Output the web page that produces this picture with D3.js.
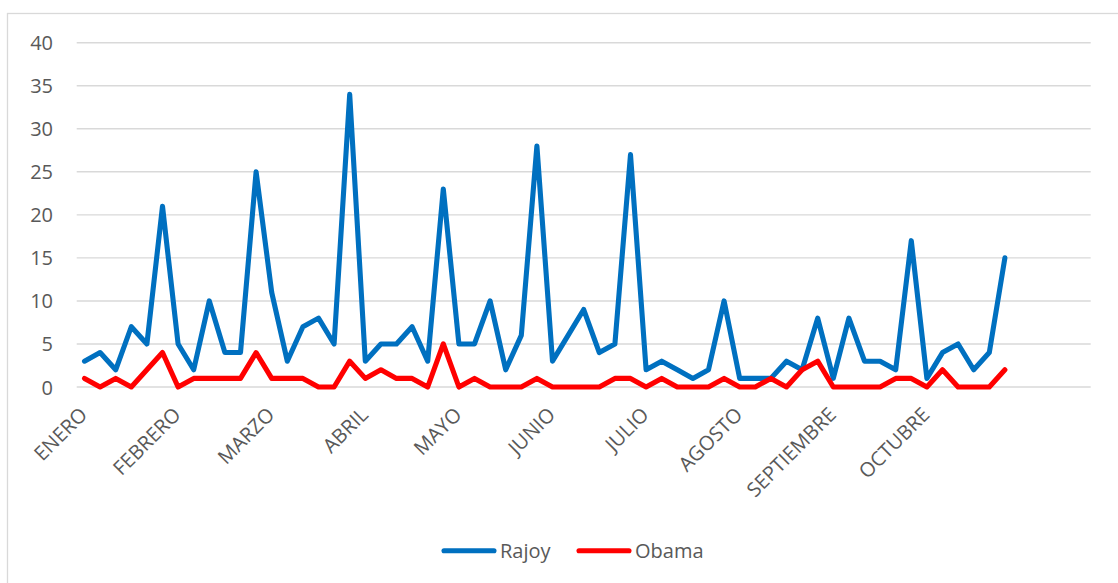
<!DOCTYPE html>
<html>
<head>
<meta charset="utf-8">
<script src="https://cdn.jsdelivr.net/npm/d3@7"></script>
<style>
  html, body { margin: 0; padding: 0; background: #ffffff; }
  svg { display: block; }
  text { font-family: "Open Sans", "Liberation Sans", sans-serif; fill: #595959; }
</style>
</head>
<body>
<svg id="chart" width="1118" height="583"></svg>
<script>
// Weekly mention counts, 65 category slots (last five empty)
const slotCount = 65;
const monthLabels = ["ENERO", "FEBRERO", "MARZO", "ABRIL", "MAYO", "JUNIO",
                     "JULIO", "AGOSTO", "SEPTIEMBRE", "OCTUBRE"];
const labelEvery = 6;
const rajoy = [3, 4, 2, 7, 5, 21, 5, 2, 10, 4, 4, 25, 11, 3, 7, 8, 5, 34, 3, 5,
               5, 7, 3, 23, 5, 5, 10, 2, 6, 28, 3, 6, 9, 4, 5, 27, 2, 3, 2, 1,
               2, 10, 1, 1, 1, 3, 2, 8, 1, 8, 3, 3, 2, 17, 1, 4, 5, 2, 4, 15];
const obama = [1, 0, 1, 0, 2, 4, 0, 1, 1, 1, 1, 4, 1, 1, 1, 0, 0, 3, 1, 2,
               1, 1, 0, 5, 0, 1, 0, 0, 0, 1, 0, 0, 0, 0, 1, 1, 0, 1, 0, 0,
               0, 1, 0, 0, 1, 0, 2, 3, 0, 0, 0, 0, 1, 1, 0, 2, 0, 0, 0, 2];
const yTicks = [0, 5, 10, 15, 20, 25, 30, 35, 40];

const series = [
  { name: "Rajoy", values: rajoy, color: "#0070C0" },
  { name: "Obama", values: obama, color: "#FF0000" }
];

const svg = d3.select("#chart");

// chart area border
svg.append("rect")
  .attr("x", 7.5).attr("y", 13.5)
  .attr("width", 1300).attr("height", 700)
  .attr("fill", "#ffffff")
  .attr("stroke", "#D9D9D9").attr("stroke-width", 1.3);

const plot = { left: 76.7, right: 1090.7, top: 42.7, bottom: 387 };

const x = d3.scaleBand()
  .domain(d3.range(slotCount))
  .range([plot.left, plot.right])
  .paddingInner(0).paddingOuter(0);
const cx = i => x(i) + x.bandwidth() / 2;

const y = d3.scaleLinear().domain([0, 40]).range([plot.bottom, plot.top]);

// horizontal gridlines
svg.append("g")
  .selectAll("line")
  .data(yTicks)
  .join("line")
  .attr("x1", plot.left).attr("x2", plot.right)
  .attr("y1", d => y(d)).attr("y2", d => y(d))
  .attr("stroke", "#D9D9D9").attr("stroke-width", 1.4);

// y axis labels
const yAxis = d3.axisLeft(y).tickValues(yTicks).tickSize(0).tickPadding(0);
const gy = svg.append("g")
  .attr("transform", `translate(${53},0)`)
  .call(yAxis);
gy.select(".domain").remove();
gy.selectAll("text")
  .attr("font-size", 20)
  .attr("font-family", "Open Sans")
  .attr("fill", "#595959")
  .attr("dy", "0.35em");

// x axis: month names every sixth slot, rotated
const xTickValues = monthLabels.map((m, k) => k * labelEvery);
const xAxis = d3.axisBottom(x)
  .tickValues(xTickValues)
  .tickFormat(i => monthLabels[i / labelEvery])
  .tickSize(0).tickPadding(0);
const gx = svg.append("g")
  .attr("transform", `translate(0,${plot.bottom})`)
  .call(xAxis);
gx.select(".domain").remove();
gx.selectAll(".tick text")
  .attr("font-size", 20)
  .attr("font-family", "Open Sans")
  .attr("fill", "#595959")
  .attr("text-anchor", "end")
  .attr("x", 0).attr("y", 0).attr("dy", 0)
  .attr("transform", "translate(4,29) rotate(-45)");

// series lines
const line = d3.line()
  .x((d, i) => cx(i))
  .y(d => y(d));

svg.append("g")
  .selectAll("path")
  .data(series)
  .join("path")
  .attr("d", s => line(s.values))
  .attr("fill", "none")
  .attr("stroke", s => s.color)
  .attr("stroke-width", 5.1)
  .attr("stroke-linejoin", "round")
  .attr("stroke-linecap", "round");

// legend
const legendItems = [
  { s: series[0], x1: 444, x2: 494, tx: 500 },
  { s: series[1], x1: 579, x2: 629, tx: 635 }
];
const lg = svg.append("g").attr("transform", "translate(0,550.7)");
lg.selectAll("line")
  .data(legendItems)
  .join("line")
  .attr("x1", d => d.x1).attr("x2", d => d.x2)
  .attr("y1", 0).attr("y2", 0)
  .attr("stroke", d => d.s.color)
  .attr("stroke-width", 5.1)
  .attr("stroke-linecap", "round");
lg.selectAll("text")
  .data(legendItems)
  .join("text")
  .attr("x", d => d.tx)
  .attr("y", 0)
  .attr("dy", "0.35em")
  .attr("font-size", 20)
  .text(d => d.s.name);
</script>
</body>
</html>
